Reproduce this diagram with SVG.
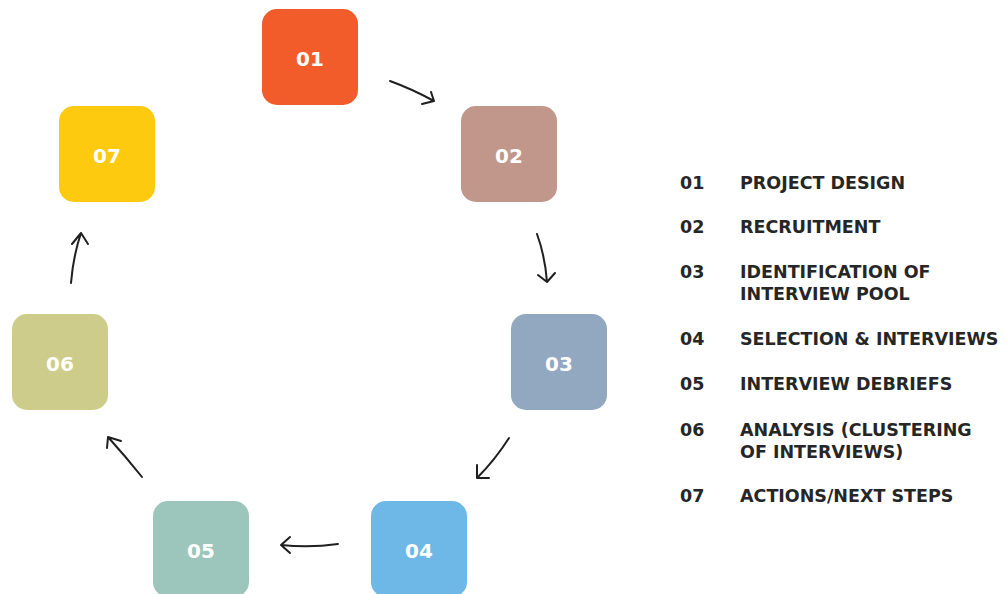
<svg xmlns="http://www.w3.org/2000/svg" width="1007" height="594" viewBox="0 0 1007 594">
  <defs>
    <style>
      .box { stroke: none; }
      .num { font-family: "DejaVu Sans", "Liberation Sans", sans-serif; font-weight: bold; font-size: 20px; fill: #ffffff; text-anchor: middle; }
      .conn { fill: none; stroke: #1f1f1f; stroke-width: 2; stroke-linecap: round; stroke-linejoin: round; }
      .legend text { font-family: "DejaVu Sans", "Liberation Sans", sans-serif; font-weight: bold; font-size: 17.5px; fill: #262626; }
    </style>
  </defs>
  <rect width="1007" height="594" fill="#ffffff"/>

  <!-- step boxes -->
  <g id="step-01">
    <rect class="box" x="262" y="9" width="96" height="96" rx="15" fill="#F25B2A"/>
    <text class="num" x="310" y="66">01</text>
  </g>
  <g id="step-02">
    <rect class="box" x="461" y="106" width="96" height="96" rx="15" fill="#C0978A"/>
    <text class="num" x="509" y="163">02</text>
  </g>
  <g id="step-03">
    <rect class="box" x="511" y="314" width="96" height="96" rx="15" fill="#91A8C0"/>
    <text class="num" x="559" y="371">03</text>
  </g>
  <g id="step-04">
    <rect class="box" x="371" y="501" width="96" height="96" rx="15" fill="#6DB8E7"/>
    <text class="num" x="419" y="558">04</text>
  </g>
  <g id="step-05">
    <rect class="box" x="153" y="501" width="96" height="96" rx="15" fill="#9CC5BB"/>
    <text class="num" x="201" y="558">05</text>
  </g>
  <g id="step-06">
    <rect class="box" x="12" y="314" width="96" height="96" rx="15" fill="#CECC8A"/>
    <text class="num" x="60" y="371">06</text>
  </g>
  <g id="step-07">
    <rect class="box" x="59" y="106" width="96" height="96" rx="15" fill="#FDCA0F"/>
    <text class="num" x="107" y="163">07</text>
  </g>

  <!-- hand-drawn connectors -->
  <g id="connectors">
    <path class="conn" d="M390 81 Q412 89 434 101 M422 104 L434 101 L431 92"/>
    <path class="conn" d="M537 234 Q545 256 547 282 M538 275 L547 282 L555 273"/>
    <path class="conn" d="M509 438 Q495 460 477 478 M477 465 L477 478 L489 478"/>
    <path class="conn" d="M338 544 Q310 548 281 545 M290 537 L281 545 L290 553"/>
    <path class="conn" d="M142 477 Q126 457 108 437 M107 448 L108 437 L121 441"/>
    <path class="conn" d="M71 283 Q73 257 81 233 M72 244 L81 233 L88 244"/>
  </g>

  <!-- legend -->
  <g id="legend" class="legend">
    <text x="680" y="189">01</text><text x="740" y="189">PROJECT DESIGN</text>
    <text x="680" y="233">02</text><text x="740" y="233">RECRUITMENT</text>
    <text x="680" y="278">03</text><text x="740" y="278">IDENTIFICATION OF</text>
    <text x="740" y="300">INTERVIEW POOL</text>
    <text x="680" y="345">04</text><text x="740" y="345">SELECTION &amp; INTERVIEWS</text>
    <text x="680" y="390">05</text><text x="740" y="390">INTERVIEW DEBRIEFS</text>
    <text x="680" y="436">06</text><text x="740" y="436">ANALYSIS (CLUSTERING</text>
    <text x="740" y="458">OF INTERVIEWS)</text>
    <text x="680" y="502">07</text><text x="740" y="502">ACTIONS/NEXT STEPS</text>
  </g>
</svg>
